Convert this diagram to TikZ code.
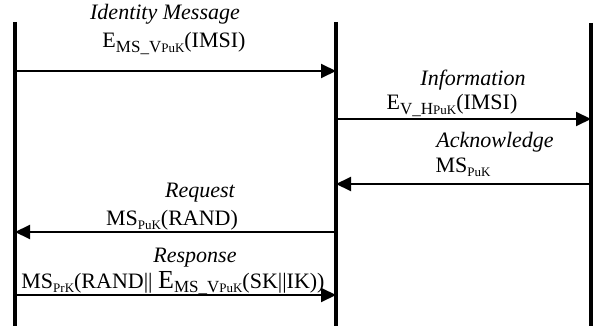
\documentclass[tikz,border=0pt]{standalone}
\usepackage{fontspec}
\setmainfont{Liberation Serif}
\usetikzlibrary{arrows.meta}

% subscript with a second, smaller level (MS_V + PuK)
\newcommand{\idx}[2]{\raisebox{-2pt}{\fontsize{8.5}{9}\selectfont #1{\fontsize{6.5}{7}\selectfont #2}}}

\tikzset{
  lifeline/.style={line width=1.8pt},
  msg/.style={line width=1pt,-{Triangle[length=7.5pt,width=7pt]}},
  title/.style={font=\fontsize{11}{12}\selectfont\itshape,anchor=base},
  body/.style={font=\fontsize{11}{12}\selectfont,anchor=base}
}

\begin{document}
\begin{tikzpicture}[x=0.5pt,y=-0.5pt]
    \useasboundingbox (0,0) rectangle (594,326);
    % lifelines
    \coordinate (ms top) at (15,22);
    \coordinate (ms bot) at (15,326);
    \coordinate (vn top) at (336,22);
    \coordinate (vn bot) at (336,326);
    \coordinate (hn top) at (591,23);
    \coordinate (hn bot) at (591,326);
    \draw[lifeline] (ms top) -- (ms bot);
    \draw[lifeline] (vn top) -- (vn bot);
    \draw[lifeline] (hn top) -- (hn bot);
    % message ends
    \coordinate (ms1) at (15,71);
    \coordinate (vn1) at (336,71);
    \coordinate (vn2) at (336,119);
    \coordinate (hn2) at (591,119);
    \coordinate (hn3) at (591,184);
    \coordinate (vn3) at (336,184);
    \coordinate (vn4) at (336,232);
    \coordinate (ms4) at (15,232);
    \coordinate (ms5) at (15,295);
    \coordinate (vn5) at (336,295);
    \draw[msg] (ms1) -- (vn1);
    \draw[msg] (vn2) -- (hn2);
    \draw[msg] (hn3) -- (vn3);
    \draw[msg] (vn4) -- (ms4);
    \draw[msg] (ms5) -- (vn5);
    % labels
    \node[title] (idmsg) at (165,20) {Identity Message};
    \node[body] (idkey) at (174,48) {E\idx{MS\_V}{PuK}(IMSI)};
    \node[title] (info) at (473,86) {Information};
    \node[body] (infokey) at (452,110) {E\idx{V\_H}{PuK}(IMSI)};
    \node[title] (ack) at (495,148) {Acknowledge};
    \node[body] (ackkey) at (463,172) {MS\idx{}{PuK}};
    \node[title] (req) at (200,197) {Request};
    \node[body] (reqkey) at (172,225) {MS\idx{}{PuK}(RAND)};
    \node[title] (resp) at (195,262) {Response};
    \node[body] (respkey) at (173,288) {MS\idx{}{PrK}(RAND|| {\fontsize{13}{14}\selectfont E}\idx{MS\_V}{PuK}(SK||IK))};
\end{tikzpicture}
\end{document}
